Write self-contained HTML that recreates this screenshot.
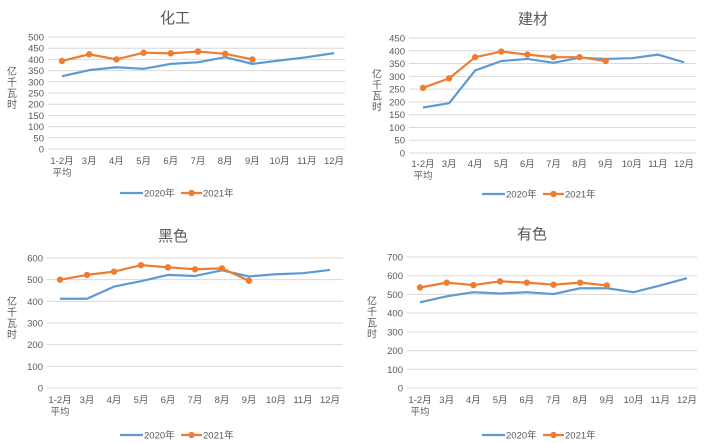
<!DOCTYPE html>
<html><head><meta charset="utf-8"><style>
html,body{margin:0;padding:0;background:#fff;}
svg{display:block;font-family:"Liberation Sans","Noto Sans CJK SC",sans-serif;}
</style></head><body>
<svg id="s" width="708" height="443" viewBox="0 0 708 443" xmlns="http://www.w3.org/2000/svg"></svg>
<script>
var charts=[
{t:"化工",tx:175,ty:23,gx0:48,gx1:345,yT:37,yB:149,max:500,step:50,px0:62,px1:334,ly:161,ylx:12,lgy:193,lgx:120,
a:[325,352,365,358,380,387,410,380,395,410,428],b:[393,423,400,430,427,435,425,400]},
{t:"建材",tx:533,ty:24,gx0:409,gx1:696,yT:38,yB:153,max:450,step:50,px0:423,px1:684,ly:164,ylx:377,lgy:194,lgx:482,
a:[178,195,323,360,368,353,373,368,371,385,355],b:[255,292,375,397,385,375,375,360]},
{t:"黑色",tx:173,ty:241,gx0:47,gx1:343,yT:258,yB:388,max:600,step:100,px0:60,px1:330,ly:400,ylx:12,lgy:435,lgx:120,
a:[412,412,468,493,522,517,543,515,525,530,545],b:[500,522,537,567,557,548,552,495]},
{t:"有色",tx:532,ty:239,gx0:407,gx1:697,yT:257,yB:388,max:700,step:100,px0:420,px1:687,ly:400,ylx:372,lgy:435,lgx:482,
a:[458,490,512,505,512,502,533,533,512,548,587],b:[537,563,550,570,563,552,563,548]}];
var labs=["1-2月","3月","4月","5月","6月","7月","8月","9月","10月","11月","12月"];
var h="";
charts.forEach(function(c){
 h+='<text x="'+c.tx+'" y="'+c.ty+'" font-size="15" fill="#595959" text-anchor="middle">'+c.t+'</text>';
 for(var v=0;v<=c.max;v+=c.step){
  var y=c.yB-(c.yB-c.yT)*v/c.max;
  h+='<line x1="'+c.gx0+'" x2="'+c.gx1+'" y1="'+y+'" y2="'+y+'" stroke="#d9d9d9" stroke-width="1"/>';
  h+='<text x="'+(c.gx0-4)+'" y="'+(y+3.5)+'" font-size="9.5" fill="#595959" text-anchor="end">'+v+'</text>';
 }
 var st=(c.px1-c.px0)/10;
 function X(i){return c.px0+st*i;}
 function Y(v){return c.yB-(c.yB-c.yT)*v/c.max;}
 labs.forEach(function(l,i){
  h+='<text x="'+X(i)+'" y="'+(c.ly+3)+'" font-size="9.5" fill="#595959" text-anchor="middle">'+l+'</text>';
 });
 h+='<text x="'+X(0)+'" y="'+(c.ly+15)+'" font-size="9.5" fill="#595959" text-anchor="middle">平均</text>';
 var yc=(c.yT+c.yB)/2-18;
 ["亿","千","瓦","时"].forEach(function(ch,i){
  h+='<text x="'+c.ylx+'" y="'+(yc+i*11)+'" font-size="10" fill="#595959" text-anchor="middle">'+ch+'</text>';
 });
 var pa=c.a.map(function(v,i){return X(i)+","+Y(v);}).join(" ");
 h+='<polyline points="'+pa+'" fill="none" stroke="#5b9bd5" stroke-width="2.2" stroke-linejoin="round"/>';
 var pb=c.b.map(function(v,i){return X(i)+","+Y(v);}).join(" ");
 h+='<polyline points="'+pb+'" fill="none" stroke="#ed7d31" stroke-width="2.2" stroke-linejoin="round"/>';
 c.b.forEach(function(v,i){h+='<circle cx="'+X(i)+'" cy="'+Y(v)+'" r="3.2" fill="#ed7d31"/>';});
 var lx=c.lgx,ly=c.lgy;
 h+='<line x1="'+lx+'" x2="'+(lx+23)+'" y1="'+ly+'" y2="'+ly+'" stroke="#5b9bd5" stroke-width="2.2"/>';
 h+='<text x="'+(lx+24)+'" y="'+(ly+3.5)+'" font-size="9.5" fill="#595959">2020年</text>';
 h+='<line x1="'+(lx+61)+'" x2="'+(lx+82)+'" y1="'+ly+'" y2="'+ly+'" stroke="#ed7d31" stroke-width="2.2"/>';
 h+='<circle cx="'+(lx+71.5)+'" cy="'+ly+'" r="3.2" fill="#ed7d31"/>';
 h+='<text x="'+(lx+83)+'" y="'+(ly+3.5)+'" font-size="9.5" fill="#595959">2021年</text>';
});
document.getElementById("s").innerHTML=h;
</script>
</body></html>
